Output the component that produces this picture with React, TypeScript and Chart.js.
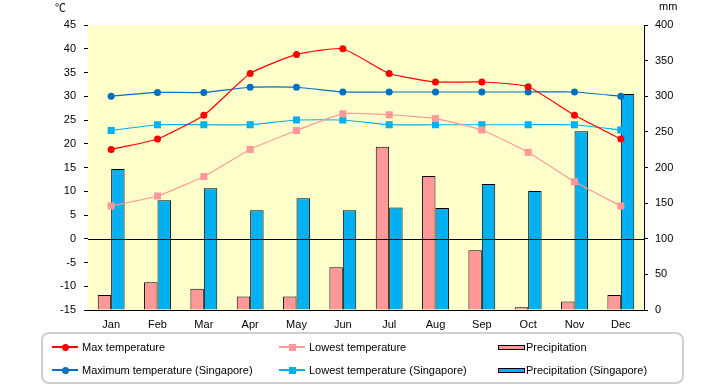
import React, { useEffect, useRef } from 'react';
import { Chart, registerables } from 'chart.js';
Chart.register(...registerables);

const months = ['Jan', 'Feb', 'Mar', 'Apr', 'May', 'Jun', 'Jul', 'Aug', 'Sep', 'Oct', 'Nov', 'Dec'];
const maxTemp = [18.8, 21, 26, 34.8, 38.8, 40, 34.8, 33, 33, 32, 26, 21];
const lowTemp = [6.9, 9, 13.1, 18.8, 22.8, 26.3, 26.1, 25.3, 22.9, 18.2, 12, 6.9];
const precip = [21, 39, 30, 19, 19, 60, 229, 188, 84, 4, 12, 21];
const sgMax = [30, 30.8, 30.8, 31.9, 31.9, 30.9, 30.9, 30.9, 30.9, 30.9, 30.9, 30];
const sgLow = [22.8, 24, 24, 24, 25, 25, 24, 24, 24, 24, 24, 22.9];
const sgPrecip = [198, 154, 171, 140, 157, 140, 144, 143, 177, 167, 251, 303];

const tempMin = -15;
const tempMax = 45;
const tempStep = 5;
const mmMin = 0;
const mmMax = 400;
const mmStep = 50;

const legendItems = [
  { label: 'Max temperature', color: '#FF0000', kind: 'circle' },
  { label: 'Lowest temperature', color: '#FF9999', kind: 'square' },
  { label: 'Precipitation', color: '#FF9999', kind: 'bar' },
  { label: 'Maximum temperature (Singapore)', color: '#0070C0', kind: 'circle' },
  { label: 'Lowest temperature (Singapore)', color: '#00B0F0', kind: 'square' },
  { label: 'Precipitation (Singapore)', color: '#00B0F0', kind: 'bar' },
];

const FONT = '"Liberation Sans", Arial, sans-serif';

const bgPlugin = {
  id: 'bgPlugin',
  beforeDatasetsDraw(chart: any) {
    const { ctx, chartArea } = chart;
    ctx.save();
    ctx.fillStyle = '#FFFFCC';
    ctx.fillRect(chartArea.left, chartArea.top, chartArea.right - chartArea.left, chartArea.bottom - chartArea.top);
    ctx.restore();
  },
  afterDatasetsDraw(chart: any) {
    const { ctx, chartArea, scales } = chart;
    const y0 = Math.round(scales.y.getPixelForValue(0)) + 0.5;
    ctx.save();
    ctx.strokeStyle = '#000';
    ctx.lineWidth = 1;
    ctx.beginPath();
    ctx.moveTo(chartArea.left, y0);
    ctx.lineTo(chartArea.right, y0);
    ctx.stroke();
    ctx.restore();
  },
};

function Marker({ color, kind }: { color: string; kind: string }) {
  if (kind === 'bar') {
    return (
      <span style={{ display: 'inline-block', width: 27, height: 5, background: color, border: '1px solid #000', boxSizing: 'border-box', marginRight: 1 }} />
    );
  }
  return (
    <span style={{ position: 'relative', display: 'inline-block', width: 26, height: 10, marginRight: 4 }}>
      <span style={{ position: 'absolute', left: 0, right: 0, top: 4.3, height: 1.4, background: color }} />
      <span
        style={{
          position: 'absolute',
          left: 9.5,
          top: 1.5,
          width: 7,
          height: 7,
          borderRadius: kind === 'circle' ? '50%' : 0,
          background: color,
        }}
      />
    </span>
  );
}

export default function App() {
  const ref = useRef<HTMLCanvasElement>(null);
  useEffect(() => {
    const canvas = ref.current;
    if (!canvas) return;
    const lineCommon = { type: 'line', yAxisID: 'y', borderWidth: 1.2, tension: 0.15, order: 1 };
    const chart = new Chart(canvas, {
      data: {
        labels: months,
        datasets: [
          { ...lineCommon, label: 'Max temperature', data: maxTemp, borderColor: '#FF0000', backgroundColor: '#FF0000', pointStyle: 'circle', pointRadius: 3.5, pointBorderWidth: 0 },
          { ...lineCommon, label: 'Lowest temperature', data: lowTemp, borderColor: '#FF9999', backgroundColor: '#FF9999', pointStyle: 'rect', pointRadius: 5, pointBorderWidth: 0 },
          { ...lineCommon, label: 'Maximum temperature (Singapore)', data: sgMax, borderColor: '#0070C0', backgroundColor: '#0070C0', pointStyle: 'circle', pointRadius: 3.5, pointBorderWidth: 0 },
          { ...lineCommon, label: 'Lowest temperature (Singapore)', data: sgLow, borderColor: '#00B0F0', backgroundColor: '#00B0F0', pointStyle: 'rect', pointRadius: 5, pointBorderWidth: 0 },
          { type: 'bar', label: 'Precipitation', data: precip, yAxisID: 'y1', backgroundColor: '#FF9999', borderColor: '#000', borderWidth: 1, categoryPercentage: 0.58, barPercentage: 1, order: 2 },
          { type: 'bar', label: 'Precipitation (Singapore)', data: sgPrecip, yAxisID: 'y1', backgroundColor: '#00B0F0', borderColor: '#000', borderWidth: 1, categoryPercentage: 0.58, barPercentage: 1, order: 2 },
        ],
      } as any,
      options: {
        animation: false,
        responsive: false,
        maintainAspectRatio: false,
        layout: { padding: { top: 25, left: 0, right: 0, bottom: 0 } },
        plugins: { legend: { display: false }, tooltip: { enabled: false } },
        scales: {
          x: {
            grid: { display: false, drawTicks: false },
            border: { display: true, color: '#000' },
            ticks: { color: '#000', font: { family: FONT, size: 11 }, padding: 8, maxRotation: 0 },
            afterFit(s: any) { s.height = 75; },
          },
          y: {
            position: 'left',
            min: tempMin,
            max: tempMax,
            grid: { drawOnChartArea: false, drawTicks: true, tickLength: 4, tickColor: '#000' },
            border: { display: true, color: '#000' },
            ticks: { stepSize: tempStep, color: '#000', font: { family: FONT, size: 11 }, padding: 8 },
            afterFit(s: any) { s.width = 88; },
          },
          y1: {
            position: 'right',
            min: mmMin,
            max: mmMax,
            grid: { drawOnChartArea: false, drawTicks: true, tickLength: 4, tickColor: '#000' },
            border: { display: true, color: '#000' },
            ticks: { stepSize: mmStep, color: '#000', font: { family: FONT, size: 11 }, padding: 7 },
            afterFit(s: any) { s.width = 76; },
          },
        },
      } as any,
      plugins: [bgPlugin],
    });
    return () => chart.destroy();
  }, []);

  const cols = [52, 279, 498];
  const rows = [347, 370];
  return (
    <div style={{ position: 'absolute', left: 0, top: 0, width: 720, height: 385, background: '#fff', fontFamily: FONT }}>
      <canvas ref={ref} width={720} height={385} style={{ position: 'absolute', left: 0, top: 0 }} />
      <div style={{ position: 'absolute', left: 55, top: 0, fontSize: 11, fontFamily: '"Noto Sans CJK JP", sans-serif', lineHeight: '14px' }}>℃</div>
      <div style={{ position: 'absolute', left: 659, top: -1, fontSize: 11, lineHeight: '14px' }}>mm</div>
      <div style={{ position: 'absolute', left: 41, top: 332, width: 643, height: 52, border: '2px solid #CFCFCF', borderRadius: 8, boxSizing: 'border-box' }} />
      {legendItems.map((it, i) => (
        <div
          key={it.label}
          style={{
            position: 'absolute',
            left: cols[i % 3],
            top: rows[Math.floor(i / 3)] - 7,
            height: 14,
            display: 'flex',
            alignItems: 'center',
            fontSize: 11,
            whiteSpace: 'nowrap',
          }}
        >
          <Marker color={it.color} kind={it.kind} />
          <span>{it.label}</span>
        </div>
      ))}
    </div>
  );
}
